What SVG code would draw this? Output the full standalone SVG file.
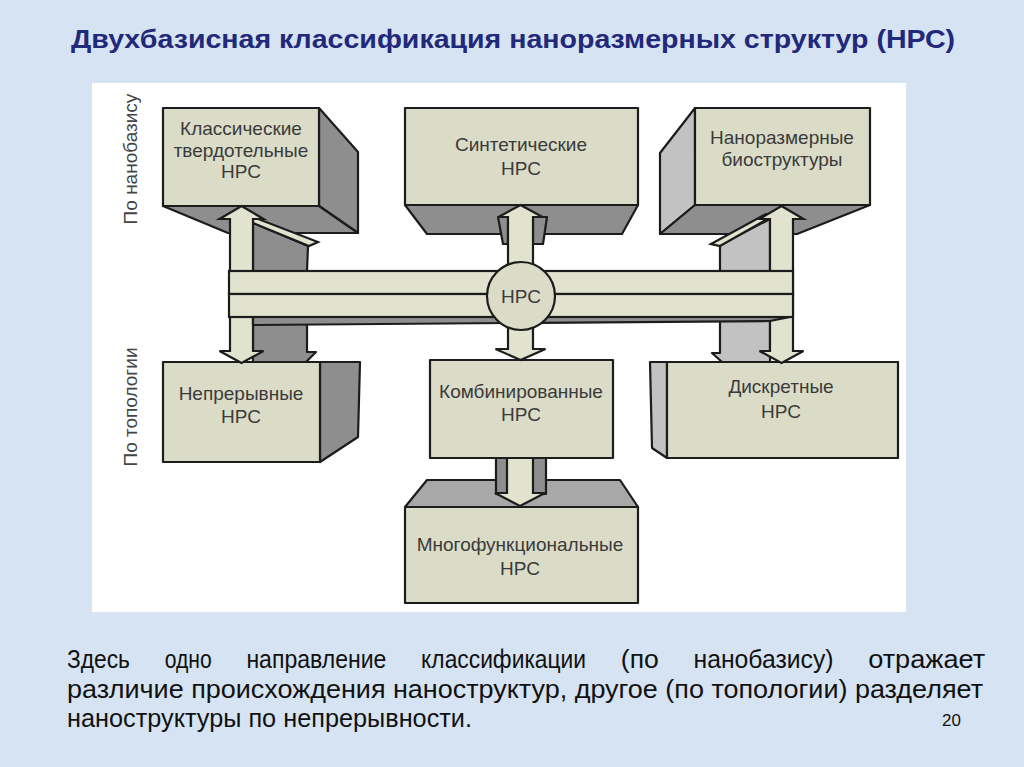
<svg xmlns="http://www.w3.org/2000/svg" width="1024" height="767" viewBox="0 0 1024 767">
<defs>
<style>
.face{fill:#dbdcc7;stroke:#1c1c1c;stroke-width:2.2;stroke-linejoin:round}
.dark{fill:#8e8e8e;stroke:#1c1c1c;stroke-width:2.2;stroke-linejoin:round}
.mid{fill:#a8a8a8;stroke:#1c1c1c;stroke-width:2.2;stroke-linejoin:round}
.light{fill:#c2c2c2;stroke:#1c1c1c;stroke-width:2.2;stroke-linejoin:round}
.arr{fill:#e2e3cf;stroke:#1c1c1c;stroke-width:2.2;stroke-linejoin:miter}
.lbl{font-family:"Liberation Sans",Arial,sans-serif;font-size:19px;fill:#3a3a3a;text-anchor:middle}
.vl{font-family:"Liberation Sans",Arial,sans-serif;font-size:19px;fill:#444;text-anchor:middle}
.body{font-family:"Liberation Sans",Arial,sans-serif;font-size:25px;fill:#111}
</style>
</defs>
<rect x="0" y="0" width="1024" height="767" fill="#d5e3f2"/>
<rect x="92" y="83" width="814" height="529" fill="#ffffff"/>
<text x="71" y="48" textLength="884" lengthAdjust="spacingAndGlyphs" font-family="Liberation Sans, Arial, sans-serif" font-size="26" font-weight="bold" fill="#22287a">Двухбазисная классификация наноразмерных структур (НРС)</text>
<text class="vl" transform="translate(137,159) rotate(-90)">По нанобазису</text>
<text class="vl" transform="translate(137,407) rotate(-90)">По топологии</text>
<g id="box-classic">
<polygon class="dark" points="319,108 358,152 358,233 319,206"/>
<polygon class="dark" points="163,206 319,206 358,233 228,233"/>
<rect class="face" x="163" y="108" width="156" height="98"/>
<text class="lbl" x="241" y="135">Классические</text>
<text class="lbl" x="241" y="157">твердотельные</text>
<text class="lbl" x="241" y="178">НРС</text>
</g>
<g id="box-synthetic">
<polygon class="dark" points="405,205 638,205 622,234 427,234"/>
<rect class="face" x="405" y="108" width="233" height="97"/>
<text class="lbl" x="521" y="151">Синтетические</text>
<text class="lbl" x="521" y="175">НРС</text>
</g>
<g id="box-bio">
<polygon class="light" points="695,108 660,153 660,234 695,205"/>
<polygon class="dark" points="695,205 870,205 797,234 660,234"/>
<rect class="face" x="695" y="108" width="175" height="97"/>
<text class="lbl" x="782" y="144">Наноразмерные</text>
<text class="lbl" x="782" y="166">биоструктуры</text>
</g>
<g id="box-continuous">
<polygon class="dark" points="320,362 360,362 358,437 320,462"/>
<rect class="face" x="163" y="362" width="157" height="100"/>
<text class="lbl" x="241" y="400">Непрерывные</text>
<text class="lbl" x="241" y="423">НРС</text>
</g>
<g id="box-combined">
<rect class="face" x="430" y="360" width="183" height="98"/>
<text class="lbl" x="521" y="398">Комбинированные</text>
<text class="lbl" x="521" y="421">НРС</text>
</g>
<g id="box-multi">
<polygon class="mid" points="405,507 427,480 620,480 638,507"/>
<rect class="face" x="405" y="507" width="233" height="96"/>
<text class="lbl" x="520" y="551">Многофункциональные</text>
<text class="lbl" x="520" y="575">НРС</text>
</g>
<g id="box-discrete">
<polygon class="light" points="650,362 667,362 667,458 652,448"/>
<rect class="face" x="667" y="362" width="231" height="96"/>
<text class="lbl" x="781" y="393">Дискретные</text>
<text class="lbl" x="781" y="418">НРС</text>
</g>
<g id="connectors">
<polygon class="dark" points="253,223 308,246 307,271 253,271"/>
<polygon class="arr" points="253,217 318,242 309,246 253,223"/>
<polygon class="dark" points="253,318 307,318 307,352 316,352 306,362 253,362"/>
<polygon class="light" points="720,245 770,219 770,271 720,271"/>
<polygon class="arr" points="711,244 766,214 771,217 720,246"/>
<polygon class="light" points="720,318 770,318 770,362 722,362 712,353 720,353"/>
<polygon class="dark" points="498,217 508,217 508,244 503,244"/>
<polygon class="dark" points="533,217 547,217 543,244 533,244"/>
<polygon class="dark" points="496,458 546,458 546,494 496,494"/>
<polygon class="arr" points="241.5,206 263.5,219 253,219 253,351 263.5,351 241.5,363 219.5,351 230,351 230,219 219.5,219"/>
<polygon class="arr" points="781.5,206 803.5,219 793,219 793,351 803.5,351 781.5,363 759.5,351 770,351 770,219 759.5,219"/>
<polygon class="arr" points="520.5,205 542.5,217 533,217 533,349 545.5,349 520.5,360 495.5,349 508,349 508,217 498.5,217"/>
<polygon class="arr" points="507,458 533,458 533,493 545,493 520,506 495,493 507,493"/>
<polygon class="dark" points="253,317 790,317 770,321 253,325"/>
<rect class="arr" x="229" y="271" width="564" height="23"/>
<rect class="arr" x="229" y="294" width="564" height="23"/>
</g>
<g id="node-center">
<circle class="face" cx="521" cy="296" r="34"/>
<text class="lbl" x="521" y="303">НРС</text>
</g>
<g id="caption">
<text class="body" x="67" y="668" textLength="63" lengthAdjust="spacingAndGlyphs">Здесь</text>
<text class="body" x="164.7" y="668" textLength="47" lengthAdjust="spacingAndGlyphs">одно</text>
<text class="body" x="246.4" y="668" textLength="140" lengthAdjust="spacingAndGlyphs">направление</text>
<text class="body" x="421.1" y="668" textLength="165" lengthAdjust="spacingAndGlyphs">классификации</text>
<text class="body" x="620.8" y="668" textLength="38" lengthAdjust="spacingAndGlyphs">(по</text>
<text class="body" x="693.5" y="668" textLength="140" lengthAdjust="spacingAndGlyphs">нанобазису)</text>
<text class="body" x="868.2" y="668" textLength="117" lengthAdjust="spacingAndGlyphs">отражает</text>
<text class="body" x="67" y="698" textLength="916" lengthAdjust="spacingAndGlyphs">различие происхождения наноструктур, другое (по топологии) разделяет</text>
<text class="body" x="67" y="727" textLength="405" lengthAdjust="spacingAndGlyphs">наноструктуры по непрерывности.</text>
<text x="942" y="726" font-family="Liberation Sans, Arial, sans-serif" font-size="17" fill="#111">20</text>
</g>
</svg>
